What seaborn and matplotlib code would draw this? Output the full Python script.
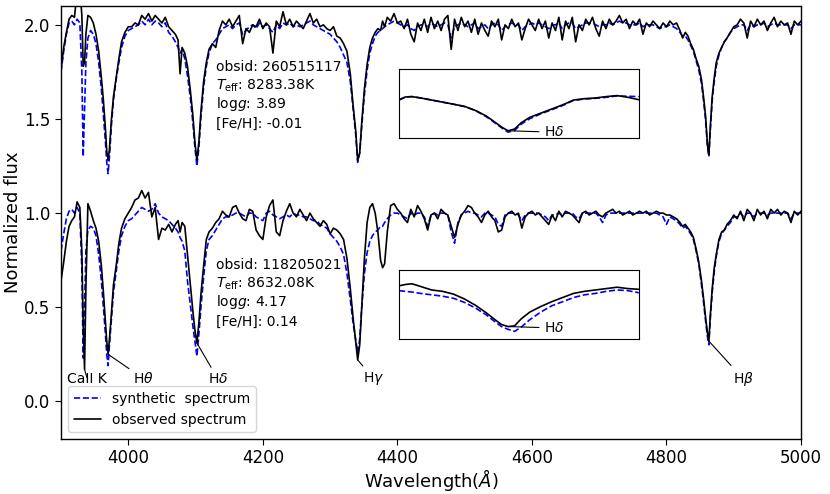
import numpy as np
import seaborn as sns
import matplotlib.pyplot as plt

# wavelength grid (Angstrom), shared by all four spectra
wave = [3900, 3904, 3908, 3912, 3916, 3920, 3924, 3928, 3931, 3933,
        3935, 3937, 3940, 3944, 3948, 3952, 3956, 3960, 3963, 3966,
        3968, 3970, 3972, 3975, 3978, 3982, 3986, 3990, 3995, 4000,
        4005, 4010, 4015, 4020, 4025, 4030, 4035, 4040, 4045, 4050,
        4055, 4060, 4065, 4070,
        4074, 4077, 4080, 4084, 4088, 4092, 4096, 4099, 4102, 4105,
        4108, 4112, 4116, 4120, 4125, 4130,
        4135, 4140, 4145, 4150, 4155, 4160, 4165, 4170, 4175, 4180,
        4185, 4190, 4195, 4200, 4205, 4210, 4215, 4220, 4225, 4230,
        4235, 4240, 4245, 4250, 4255, 4260, 4265, 4270, 4275, 4280,
        4285, 4290, 4295, 4300,
        4305, 4310, 4315, 4320, 4325, 4330, 4334, 4338, 4341, 4344,
        4347, 4351, 4355, 4359, 4363, 4367, 4371, 4375, 4378, 4381,
        4385, 4390, 4395, 4400,
        4405, 4410, 4415, 4420, 4425, 4430, 4435, 4440, 4445, 4450,
        4455, 4460, 4465, 4470, 4475, 4480, 4485, 4490, 4495, 4500,
        4505, 4510, 4515, 4520, 4525, 4530, 4535, 4540, 4545, 4550,
        4555, 4560, 4565, 4570, 4575, 4580, 4585, 4590, 4595, 4600,
        4605, 4610, 4615, 4620, 4625, 4630, 4635, 4640, 4645, 4650,
        4655, 4660, 4665, 4670, 4675, 4680, 4685, 4690, 4695, 4700,
        4705, 4710, 4715, 4720, 4725, 4730, 4735, 4740, 4745, 4750,
        4755, 4760, 4765, 4770, 4775, 4780, 4785, 4790, 4795, 4800,
        4805, 4810, 4815, 4820,
        4824, 4828, 4832, 4836, 4840, 4844, 4848, 4852, 4855, 4858,
        4861, 4863, 4865, 4868, 4871, 4874, 4878, 4882, 4886, 4890,
        4895, 4900,
        4905, 4910, 4915, 4920, 4925, 4930, 4935, 4940, 4945, 4950,
        4955, 4960, 4965, 4970, 4975, 4980, 4985, 4990, 4995, 5000]

# obsid 260515117 (drawn shifted up by 1)
obs_top = [0.76, 0.88, 0.96, 1.03, 1.05, 1.04, 1.18, 1.20, 1.05, 0.78,
           0.80, 0.95, 1.05, 1.04, 1.01, 0.95, 0.86, 0.72, 0.60, 0.45,
           0.33, 0.28, 0.34, 0.50, 0.62, 0.72, 0.82, 0.91, 0.96, 0.99,
           0.99, 1.01, 1.00, 1.05, 1.03, 1.06, 1.02, 1.05, 1.03, 1.01,
           1.04, 0.99, 0.97, 0.95,
           0.92, 0.74, 0.88, 0.85, 0.78, 0.66, 0.52, 0.38, 0.28, 0.38,
           0.54, 0.70, 0.80, 0.87, 0.90, 0.88,
           0.97, 1.02, 1.00, 1.03, 0.99, 1.02, 1.05, 0.90, 0.98, 0.96,
           1.00, 0.99, 1.03, 0.98, 1.01, 0.99, 0.85, 1.02, 0.99, 1.07,
           1.00, 1.03, 0.99, 1.02, 1.00, 0.98, 1.02, 1.06, 1.01, 1.03,
           0.99, 1.00, 0.98, 0.97,
           0.99, 0.94, 0.93, 0.90, 0.86, 0.74, 0.58, 0.44, 0.28, 0.32,
           0.48, 0.66, 0.79, 0.88, 0.93, 0.96, 0.98, 0.97, 1.02, 0.99,
           1.04, 1.02, 1.06, 1.01,
           1.02, 0.98, 1.03, 0.95, 0.91, 1.01, 0.97, 1.03, 0.96, 1.04,
           0.98, 1.02, 0.97, 1.03, 1.05, 0.87, 1.03, 0.97, 1.04, 0.99,
           1.02, 0.96, 1.03, 0.95, 1.01, 0.97, 0.94, 1.02, 0.99, 1.03,
           0.92, 1.00, 0.98, 1.03, 0.99, 1.01, 0.92, 0.98, 1.03, 1.00,
           0.97, 1.03, 0.98, 1.02, 0.93, 1.01, 0.97, 1.04, 0.92, 1.02,
           0.98, 1.04, 0.91, 1.00, 0.97, 1.03, 1.00, 1.04, 0.98, 0.94,
           1.02, 0.98, 1.03, 1.00, 1.02, 1.05, 1.01, 1.03, 0.98, 1.02,
           1.00, 1.03, 0.95, 1.01, 0.99, 1.02, 1.00, 0.98, 1.01, 0.99,
           1.02, 1.00, 1.01, 0.97,
           0.93, 0.96, 0.94, 0.90, 0.87, 0.82, 0.78, 0.71, 0.62, 0.52,
           0.36, 0.31, 0.45, 0.62, 0.72, 0.80, 0.85, 0.88, 0.91, 0.93,
           0.96, 0.99,
           1.00, 1.03, 1.01, 0.93, 1.02, 0.99, 1.03, 1.00, 1.02, 0.97,
           1.01, 1.04, 0.99, 1.02, 1.00, 1.01, 0.95, 1.02, 1.00, 1.02]

syn_top = [0.75, 0.86, 0.95, 1.01, 1.02, 1.00, 1.03, 1.01, 0.75, 0.30,
           0.55, 0.80, 0.93, 0.97, 0.95, 0.90, 0.80, 0.66, 0.52, 0.38,
           0.27, 0.21, 0.30, 0.47, 0.60, 0.71, 0.80, 0.88, 0.94, 0.97,
           0.98, 0.99, 1.00, 1.02, 1.00, 1.03, 1.00, 1.02, 1.01, 0.99,
           1.01, 0.96, 0.94, 0.91,
           0.88, 0.85, 0.87, 0.82, 0.73, 0.62, 0.48, 0.35, 0.25, 0.35,
           0.51, 0.67, 0.78, 0.85, 0.90, 0.92,
           0.95, 0.98, 0.99, 1.00, 0.98, 1.00, 1.01, 0.95, 0.97, 0.99,
           1.00, 0.98, 1.01, 0.99, 1.00, 0.98, 0.96, 1.00, 0.98, 1.01,
           1.00, 1.01, 0.99, 1.00, 0.99, 1.00, 1.01, 1.02, 1.00, 0.99,
           0.98, 0.97, 0.96, 0.95,
           0.93, 0.91, 0.88, 0.84, 0.80, 0.70, 0.56, 0.42, 0.27, 0.32,
           0.46, 0.63, 0.76, 0.85, 0.90, 0.94, 0.96, 0.97, 0.98, 0.99,
           1.00, 1.01, 1.02, 1.01,
           1.00, 0.99, 1.00, 0.98, 0.97, 0.99, 1.00, 1.00, 0.99, 1.01,
           1.00, 0.99, 1.00, 1.01, 1.00, 0.93, 0.99, 1.00, 1.01, 1.00,
           0.99, 1.00, 1.01, 0.98, 0.99, 1.00, 0.98, 1.00, 1.01, 1.00,
           0.97, 0.99, 1.00, 1.01, 1.00, 1.00, 0.97, 0.99, 1.00, 1.01,
           1.00, 1.01, 1.00, 0.99, 0.98, 1.00, 1.00, 1.01, 0.98, 1.00,
           1.01, 1.01, 0.98, 0.99, 1.00, 1.01, 1.01, 1.01, 1.00, 0.99,
           1.00, 1.00, 1.01, 1.00, 1.01, 1.02, 1.01, 1.01, 1.00, 1.00,
           1.00, 1.01, 0.99, 1.00, 1.00, 1.00, 0.99, 0.98, 0.99, 0.99,
           1.00, 0.99, 0.98, 0.96,
           0.94, 0.94, 0.92, 0.89, 0.86, 0.81, 0.76, 0.69, 0.60, 0.50,
           0.35, 0.30, 0.43, 0.60, 0.70, 0.78, 0.84, 0.88, 0.91, 0.93,
           0.96, 0.98,
           0.99, 1.00, 1.00, 0.97, 1.00, 0.99, 1.00, 1.00, 1.01, 0.99,
           1.00, 1.01, 1.00, 1.00, 1.00, 1.00, 0.98, 1.00, 1.00, 1.00]

# obsid 118205021
obs_bot = [0.64, 0.74, 0.85, 0.93, 0.96, 0.98, 1.06, 1.03, 0.80, 0.40,
           0.17, 0.60, 1.05, 1.01, 0.96, 0.92, 0.85, 0.72, 0.58, 0.42,
           0.32, 0.25, 0.33, 0.47, 0.62, 0.72, 0.84, 0.92, 0.97, 1.00,
           1.03, 1.07, 1.08, 1.12, 1.08, 1.11, 0.98, 1.03, 0.86, 0.92,
           0.91, 0.94, 0.90, 0.94,
           0.96, 0.90, 0.95, 0.93, 0.78, 0.63, 0.48, 0.38, 0.31, 0.42,
           0.57, 0.72, 0.86, 0.90, 0.92, 0.95,
           0.97, 1.01, 0.99, 0.98, 1.03, 1.04, 1.00, 0.97, 0.96, 1.02,
           1.01, 0.91, 0.88, 0.86, 0.98, 1.04, 1.07, 0.90, 0.88, 0.96,
           1.01, 1.05, 1.00, 0.98, 1.02, 0.99, 0.96, 1.00, 0.97, 0.95,
           0.93, 0.96, 0.94, 0.89,
           0.92, 0.91, 0.89, 0.86, 0.76, 0.60, 0.45, 0.32, 0.22, 0.30,
           0.50, 0.76, 0.95, 1.03, 1.05, 1.00, 0.90, 0.75, 0.71, 0.73,
           0.90, 1.04, 1.05, 1.02,
           1.00, 0.97, 0.95, 1.02, 0.98, 1.04, 1.01, 0.97, 0.91, 0.99,
           1.00, 0.97, 1.02, 1.00, 0.99, 0.93, 0.87, 0.94, 0.99, 1.01,
           1.04, 1.03, 1.00, 0.98, 0.95, 0.99, 1.01, 0.98, 0.96, 0.90,
           0.91, 0.98, 1.00, 1.01, 0.99, 1.00, 0.92, 0.98, 1.00, 1.01,
           0.99, 1.00, 0.98, 0.96, 0.94, 0.99, 0.96, 1.01, 0.98, 1.01,
           1.00, 0.99, 0.97, 0.95, 1.00, 1.01, 0.99, 1.00, 1.01, 0.99,
           0.98, 1.00, 1.01, 1.02, 1.00, 1.01, 0.99, 1.00, 1.01, 0.99,
           1.00, 1.01, 1.00, 1.01, 0.99, 1.00, 1.01, 1.00, 1.00, 0.99,
           0.99, 0.98, 0.97, 0.95,
           0.93, 0.94, 0.92, 0.90, 0.87, 0.81, 0.74, 0.64, 0.55, 0.45,
           0.36, 0.32, 0.45, 0.60, 0.71, 0.78, 0.86, 0.90, 0.91, 0.94,
           0.96, 0.99,
           0.97, 1.01, 0.96, 1.02, 1.00, 0.96, 1.02, 0.99, 1.01, 0.97,
           1.02, 1.00, 1.02, 0.99, 1.01, 1.00, 0.95, 1.01, 0.99, 1.01]

syn_bot = [0.80, 0.89, 0.97, 1.01, 1.02, 1.00, 1.03, 1.00, 0.70, 0.23,
           0.50, 0.80, 0.91, 0.93, 0.92, 0.88, 0.78, 0.64, 0.50, 0.36,
           0.25, 0.19, 0.30, 0.44, 0.58, 0.69, 0.80, 0.88, 0.93, 0.96,
           0.97, 0.99, 1.01, 1.03, 1.02, 1.01, 1.02, 1.05, 1.00, 0.98,
           0.97, 0.96, 0.94, 0.92,
           0.90, 0.87, 0.85, 0.80, 0.64, 0.52, 0.40, 0.32, 0.24, 0.36,
           0.50, 0.66, 0.80, 0.86, 0.88, 0.91,
           0.94, 0.97, 0.98, 0.98, 0.99, 1.00, 1.00, 0.99, 0.98, 1.00,
           1.00, 0.98, 0.97, 0.96, 1.00, 1.01, 0.99, 0.98, 0.97, 0.98,
           0.99, 0.98, 1.00, 0.99, 0.99, 0.98, 0.98, 0.97, 0.96, 0.96,
           0.94, 0.93, 0.92, 0.89,
           0.87, 0.85, 0.82, 0.78, 0.68, 0.54, 0.42, 0.33, 0.26, 0.33,
           0.50, 0.68, 0.79, 0.85, 0.88, 0.90, 0.91, 0.93, 0.93, 0.95,
           0.97, 0.99, 1.00, 1.00,
           0.99, 0.98, 0.97, 1.00, 0.99, 1.00, 1.00, 0.98, 0.93, 0.99,
           1.00, 0.99, 1.00, 1.00, 0.99, 0.90, 0.84, 0.95, 0.99, 1.00,
           1.01, 1.00, 1.00, 0.99, 0.98, 1.00, 1.00, 0.99, 0.98, 0.94,
           0.93, 0.99, 1.00, 1.00, 1.00, 0.99, 0.96, 0.99, 1.00, 1.00,
           1.00, 1.00, 0.99, 0.98, 0.96, 0.99, 0.99, 1.00, 0.99, 1.00,
           1.00, 1.00, 0.98, 0.97, 1.00, 1.00, 1.00, 1.00, 1.00, 0.98,
           0.95, 0.99, 1.00, 1.00, 1.00, 1.00, 1.00, 1.00, 1.00, 1.00,
           1.00, 1.00, 1.00, 1.00, 1.00, 1.00, 1.00, 0.99, 0.98, 0.94,
           0.98, 0.97, 0.96, 0.94,
           0.92, 0.93, 0.91, 0.89, 0.86, 0.80, 0.73, 0.62, 0.53, 0.43,
           0.34, 0.30, 0.43, 0.58, 0.69, 0.77, 0.85, 0.89, 0.91, 0.93,
           0.95, 0.98,
           0.98, 1.00, 0.98, 1.00, 1.00, 0.98, 1.00, 1.00, 1.00, 0.99,
           1.00, 1.00, 1.00, 1.00, 1.00, 1.00, 0.97, 1.00, 1.00, 1.00]

# zoom-in on the H-delta core (inset panels, relative flux)
inset_wave = [4050, 4053, 4056, 4060, 4065, 4070, 4075, 4080, 4085, 4090,
              4094, 4097, 4100, 4103, 4106, 4110, 4115, 4120, 4125, 4130,
              4135, 4140, 4145, 4150, 4155, 4160]
inset_obs_top = [0.55, 0.595, 0.60, 0.58, 0.55, 0.52, 0.49, 0.46, 0.40, 0.32,
                 0.23, 0.16, 0.105, 0.13, 0.22, 0.30, 0.36, 0.42, 0.48, 0.55,
                 0.57, 0.58, 0.60, 0.615, 0.59, 0.555]
inset_syn_top = [0.555, 0.595, 0.60, 0.58, 0.55, 0.52, 0.49, 0.455, 0.40, 0.31,
                 0.22, 0.15, 0.085, 0.11, 0.20, 0.28, 0.35, 0.41, 0.47, 0.545,
                 0.565, 0.575, 0.59, 0.61, 0.605, 0.60]
inset_obs_bot = [0.77, 0.79, 0.80, 0.76, 0.71, 0.69, 0.65, 0.58, 0.49, 0.38,
                 0.28, 0.21, 0.18, 0.19, 0.29, 0.39, 0.47, 0.54, 0.60, 0.66,
                 0.69, 0.71, 0.73, 0.75, 0.73, 0.72]
inset_syn_bot = [0.70, 0.69, 0.68, 0.66, 0.64, 0.62, 0.59, 0.53, 0.45, 0.35,
                 0.25, 0.18, 0.14, 0.11, 0.17, 0.28, 0.39, 0.48, 0.54, 0.60,
                 0.64, 0.66, 0.69, 0.71, 0.70, 0.67]

star_info = [['obsid: 260515117', r'$T_{\rm eff}$: 8283.38K', r'log$g$: 3.89', '[Fe/H]: -0.01'],
             ['obsid: 118205021', r'$T_{\rm eff}$: 8632.08K', r'log$g$: 4.17', '[Fe/H]: 0.14']]

line_names = ['CaII K', r'H$\theta$', r'H$\delta$', r'H$\gamma$', r'H$\beta$']
line_xy = [(3935, 0.17), (3970, 0.25), (4102, 0.31), (4341, 0.22), (4863, 0.32)]
line_text = [(3939, 0.12), (4023, 0.12), (4133, 0.12), (4365, 0.12), (4914, 0.12)]

offset = 1.0

sns.set_style('ticks')
plt.rcParams['font.family'] = ['DejaVu Sans']
plt.rcParams.update({'text.color': 'black', 'axes.labelcolor': 'black',
                     'xtick.color': 'black', 'ytick.color': 'black',
                     'axes.edgecolor': 'black'})

fig = plt.figure(figsize=(8.3, 4.94), dpi=100)
ax = fig.add_axes([0.0735, 0.1113, 0.8916, 0.8765])

wave_arr = np.array(wave)
sns.lineplot(x=wave_arr, y=np.array(syn_bot), ax=ax, color='blue', linestyle='--',
             lw=1.2, sort=False, estimator=None, label='synthetic  spectrum')
sns.lineplot(x=wave_arr, y=np.array(obs_bot), ax=ax, color='black', lw=1.2,
             sort=False, estimator=None, label='observed spectrum')
sns.lineplot(x=wave_arr, y=np.array(syn_top) + offset, ax=ax, color='blue', linestyle='--',
             lw=1.2, sort=False, estimator=None, label='_nolegend_')
sns.lineplot(x=wave_arr, y=np.array(obs_top) + offset, ax=ax, color='black', lw=1.2,
             sort=False, estimator=None, label='_nolegend_')

ax.set_xlim(3900, 5000)
ax.set_ylim(-0.2, 2.1)
ax.set_yticks([0.0, 0.5, 1.0, 1.5, 2.0])
ax.tick_params(labelsize=12, direction='out', length=4, colors='black')
ax.set_xlabel(r'Wavelength($\AA$)', fontsize=13)
ax.set_ylabel('Normalized flux', fontsize=13)
ax.xaxis.set_label_coords(0.5, -0.065)
ax.yaxis.set_label_coords(-0.053, 0.5)
for s in ax.spines.values():
    s.set_color('black')
    s.set_linewidth(1.0)

# stellar parameters
for block, ys in zip(star_info, [[1.775, 1.674, 1.578, 1.472], [0.722, 0.626, 0.530, 0.424]]):
    for txt, yy in zip(block, ys):
        ax.text(4130, yy, txt, fontsize=10, va='center', ha='left')

# line identifications
for name, xy, xyt in zip(line_names, line_xy, line_text):
    ax.annotate(name, xy=xy, xytext=xyt, fontsize=10, ha='center', va='center',
                arrowprops=dict(arrowstyle='-', color='black', lw=0.8, shrinkA=1, shrinkB=0))

leg = ax.legend(loc='lower left', fontsize=10, frameon=True)
leg.get_frame().set_edgecolor('#cccccc')

# insets
for bottom, o, s, mn in [(0.7206, inset_obs_top, inset_syn_top, (4100, 0.105)),
                         (0.3138, inset_obs_bot, inset_syn_bot, (4100, 0.18))]:
    axin = fig.add_axes([0.4807, bottom, 0.289, 0.1397])
    sns.lineplot(x=inset_wave, y=s, ax=axin, color='blue', linestyle='--', lw=1.2,
                 sort=False, estimator=None)
    sns.lineplot(x=inset_wave, y=o, ax=axin, color='black', lw=1.2,
                 sort=False, estimator=None)
    axin.set_xlim(4050, 4160)
    axin.set_ylim(0, 1)
    axin.set_xticks([])
    axin.set_yticks([])
    axin.set_xlabel('')
    axin.set_ylabel('')
    for sp in axin.spines.values():
        sp.set_color('black')
        sp.set_linewidth(0.8)
    axin.annotate(r'H$\delta$', xy=mn, xytext=(4121, mn[1] - 0.02), fontsize=10,
                  ha='center', va='center',
                  arrowprops=dict(arrowstyle='-', color='black', lw=0.8, shrinkA=1, shrinkB=0))

fig.savefig('out.png', dpi=100)
